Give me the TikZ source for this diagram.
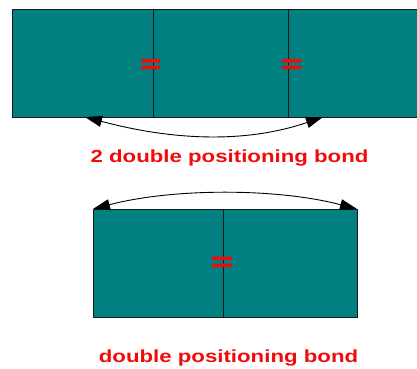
\documentclass[tikz,border=0pt]{standalone}
\usepackage{fontspec}
\usepackage{tikz}
\usetikzlibrary{arrows.meta,positioning}
\newfontfamily\bondfont[FakeStretch=1.27]{Liberation Sans}
\definecolor{cellteal}{RGB}{0,128,128}
\definecolor{bondred}{RGB}{240,10,10}

\begin{document}
\begin{tikzpicture}[x=1pt,y=-1pt,
cell/.style={draw=black!90, line width=1pt, fill=cellteal, minimum height=108pt, inner sep=0pt, outer sep=0pt},
bondarrow/.style={{Triangle[length=17pt,width=11pt]}-{Triangle[length=17pt,width=11pt]}, line width=0.9pt, black},
label/.style={text=bondred, font=\bondfont\bfseries\fontsize{17.5}{20}\selectfont, anchor=base}
]
\path[use as bounding box, clip] (0,0) rectangle (417,368);

% top row of three cells
\node[cell, minimum width=141pt, anchor=north west] (t1) at (12,9) {};
\node[cell, minimum width=135pt, right=0pt of t1] (t2) {};
\node[cell, minimum width=135pt, right=0pt of t2] (t3) {};

% bottom row of two cells
\node[cell, minimum width=130pt, anchor=north west] (b1) at (93,209) {};
\node[cell, minimum width=134pt, right=0pt of b1] (b2) {};

% double bonds
\fill[bondred] (141,59) rectangle +(19,3.5) (141,65.5) rectangle +(19,3.5);
\fill[bondred] (282,59) rectangle +(19,3.5) (282,65.5) rectangle +(19,3.5);
\fill[bondred] (212,256.5) rectangle +(20,3.5) (212,263.5) rectangle +(20,3.5);

\coordinate (la) at (85,117);
\coordinate (ra) at (323,117);
\draw[bondarrow] (la) .. controls +(94,25) and +(-73,25) .. (ra);
\draw[bondarrow] (b1.north west) .. controls +(80,-21) and +(-80,-21) .. (b2.north east);

\node[label] (toplbl) at (229.5,162.5) {2 double positioning bond};
\node[label] (botlbl) at (228.5,362) {double positioning bond};
\end{tikzpicture}
\end{document}
